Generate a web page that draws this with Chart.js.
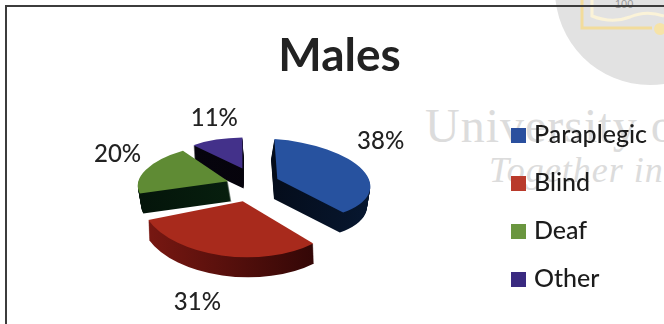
<!DOCTYPE html>
<html>
<head>
<meta charset="utf-8">
<title>Males</title>
<script src="https://cdn.jsdelivr.net/npm/chart.js@4/dist/chart.umd.min.js"></script>
<style>
  html, body { margin: 0; padding: 0; background: #fff; overflow: hidden; }
  #page { position: relative; width: 664px; height: 324px; overflow: hidden; }
  #crest { position: absolute; left: 0; top: 0; }
  #frame { position: absolute; left: 5px; top: 5px; width: 659px; height: 319px;
           border-top: 2px solid #3c3c3c; border-left: 2px solid #3c3c3c; box-sizing: border-box; }
  #holder { position: absolute; left: 6px; top: 0; width: 669px; height: 324px; }
</style>
</head>
<body>
<div id="page">
  <svg id="crest" width="664" height="324" xmlns="http://www.w3.org/2000/svg">
    <circle cx="650" cy="-10" r="95" fill="#e2e2e2"/>
    <path d="M582 0 V28 H652" fill="none" stroke="#f2dc9c" stroke-width="3"/>
    <path d="M592 0 V16 Q612 24 630 17 Q646 10 664 16" fill="none" stroke="#fbf3d8" stroke-width="3"/>
    <circle cx="660" cy="29" r="6" fill="#f6e3a8"/>
    <text x="615" y="8" font-family="Liberation Sans" font-size="11" fill="#9a9a9a">100</text>
    <text x="425" y="142" font-family="Liberation Serif" font-size="48" letter-spacing="1" fill="#dcdcdc">University of</text>
    <text x="489" y="182" font-family="Liberation Serif" font-style="italic" font-size="36" letter-spacing="1" fill="#dcdcdc">Together in</text>
  </svg>
  <div id="frame"></div>
  <div id="holder"><canvas id="chart" width="669" height="324"></canvas></div>
</div>
<script>
// Share of male respondents by disability group
const categories = ['Paraplegic', 'Blind', 'Deaf', 'Other'];
const shares = [38, 31, 20, 11];
const faceColors = ['#27529f', '#a82a1c', '#5f8b34', '#43318a'];
const swatchColors = ['#2a4f9e', '#b93a2b', '#6a963f', '#3a2a80'];

// Dark side walls of each wedge, left to right
const wallColors = [
  ['#020307', '#071730'],
  ['#7a1812', '#260404'],
  ['#04140a', '#0a2a12'],
  ['#06040f', '#050308']
];

// Per-wedge tilt: how the unit circle is foreshortened for the 3D look
const tilts = [
  [93, 3, 6, 40],
  [102, 1, 2, 56],
  [89, -15, 2, 38],
  [77, 0, -1, 31]
];
const WALL_DEPTH = 20;
const WALL_LEAN = 0.13;
const EXPLODE_Y_RATIO = 0.68;
const LEGEND_DROP = 61;
const wedgeShifts = [[-6, -9], [-9, -12], [-3, -9], [-6, -9]];
const drawOrder = [3, 2, 0, 1];
const labelNudges = [[18, -29], [-24, 47], [-28, -16], [-2, -21]];

function apexOf(arc, i) {
  const mid = (arc.startAngle + arc.endAngle) / 2;
  const explode = (arc.options.offset || 0) / 4;
  return {
    x: arc.x + wedgeShifts[i][0] + Math.cos(mid) * explode,
    y: arc.y + wedgeShifts[i][1] + Math.sin(mid) * explode * EXPLODE_Y_RATIO,
    lean: -Math.cos(mid) * explode * WALL_LEAN,
    mid
  };
}

function paintWedge(ctx, arc, tilt, fill, apex, dx, dy) {
  const keep = arc.options;
  const r = arc.outerRadius;
  arc.options = {
    offset: 0, spacing: 0, borderWidth: 0, borderAlign: 'center',
    borderColor: 'transparent', borderRadius: 0, circular: true,
    borderDash: [], borderDashOffset: 0, borderJoinStyle: 'round',
    backgroundColor: fill
  };
  ctx.save();
  ctx.translate(apex.x + dx, apex.y + dy);
  ctx.transform(tilt[0] / r, tilt[2] / r, tilt[1] / r, tilt[3] / r, 0, 0);
  ctx.translate(-arc.x, -arc.y);
  arc.draw(ctx);
  ctx.restore();
  arc.options = keep;
}

// Replaces the flat pie with extruded, separately tilted wedges
const extrudedPie = {
  id: 'extrudedPie',
  afterLayout(chart) {
    chart.legend.top += LEGEND_DROP;
    chart.legend.bottom += LEGEND_DROP;
  },
  beforeDatasetDraw(chart) {
    const ctx = chart.ctx;
    const arcs = chart.getDatasetMeta(0).data;
    drawOrder.forEach(i => {
      const arc = arcs[i];
      const apex = apexOf(arc, i);
      const r = arc.outerRadius;
      const wall = ctx.createLinearGradient(arc.x - r, 0, arc.x + r, 0);
      wall.addColorStop(0, wallColors[i][0]);
      wall.addColorStop(1, wallColors[i][1]);
      for (let step = WALL_DEPTH; step >= 1; step--) {
        paintWedge(ctx, arc, tilts[i], wall, apex, apex.lean * step / WALL_DEPTH, step);
      }
      paintWedge(ctx, arc, tilts[i], faceColors[i], apex, 0, 0);
    });
    return false;
  },
  afterDatasetsDraw(chart) {
    const ctx = chart.ctx;
    const arcs = chart.getDatasetMeta(0).data;
    ctx.save();
    ctx.font = '500 24px Lato';
    ctx.fillStyle = '#222';
    ctx.textAlign = 'center';
    ctx.textBaseline = 'middle';
    arcs.forEach((arc, i) => {
      const apex = apexOf(arc, i);
      const u = Math.cos(apex.mid), v = Math.sin(apex.mid);
      const t = tilts[i];
      const x = apex.x + t[0] * u + t[1] * v + labelNudges[i][0];
      const y = apex.y + t[2] * u + t[3] * v + labelNudges[i][1];
      ctx.fillText(shares[i] + '%', x, y);
    });
    ctx.restore();
  }
};

// Square legend key, painted wider than its slot so it sits close to the text
function swatch(color) {
  const c = document.createElement('canvas');
  c.width = 15;
  c.height = 15;
  const g = c.getContext('2d');
  g.fillStyle = color;
  g.fillRect(0, 0, 15, 15);
  return c;
}

new Chart(document.getElementById('chart'), {
  type: 'pie',
  data: {
    labels: categories,
    datasets: [{
      data: shares,
      backgroundColor: faceColors,
      borderWidth: 0,
      offset: 110
    }]
  },
  plugins: [extrudedPie],
  options: {
    responsive: false,
    animation: false,
    layout: { padding: { left: 16, right: 18, top: 0, bottom: 32 } },
    plugins: {
      tooltip: { enabled: false },
      title: {
        display: true,
        text: 'Males',
        color: '#222',
        font: { family: 'Lato', size: 46, weight: 'bold', lineHeight: 1 },
        padding: { top: 33, bottom: 19 }
      },
      legend: {
        position: 'right',
        labels: {
          usePointStyle: true,
          pointStyleWidth: 5,
          boxHeight: 15,
          padding: 23,
          font: { family: 'Lato', size: 25, weight: '500', lineHeight: 0.96 },
          generateLabels: () => categories.map((text, index) => ({
            text,
            index,
            hidden: false,
            lineWidth: 0,
            fontColor: '#1c1c1c',
            fillStyle: swatchColors[index],
            strokeStyle: swatchColors[index],
            pointStyle: swatch(swatchColors[index])
          }))
        }
      }
    }
  }
});
</script>
</body>
</html>
